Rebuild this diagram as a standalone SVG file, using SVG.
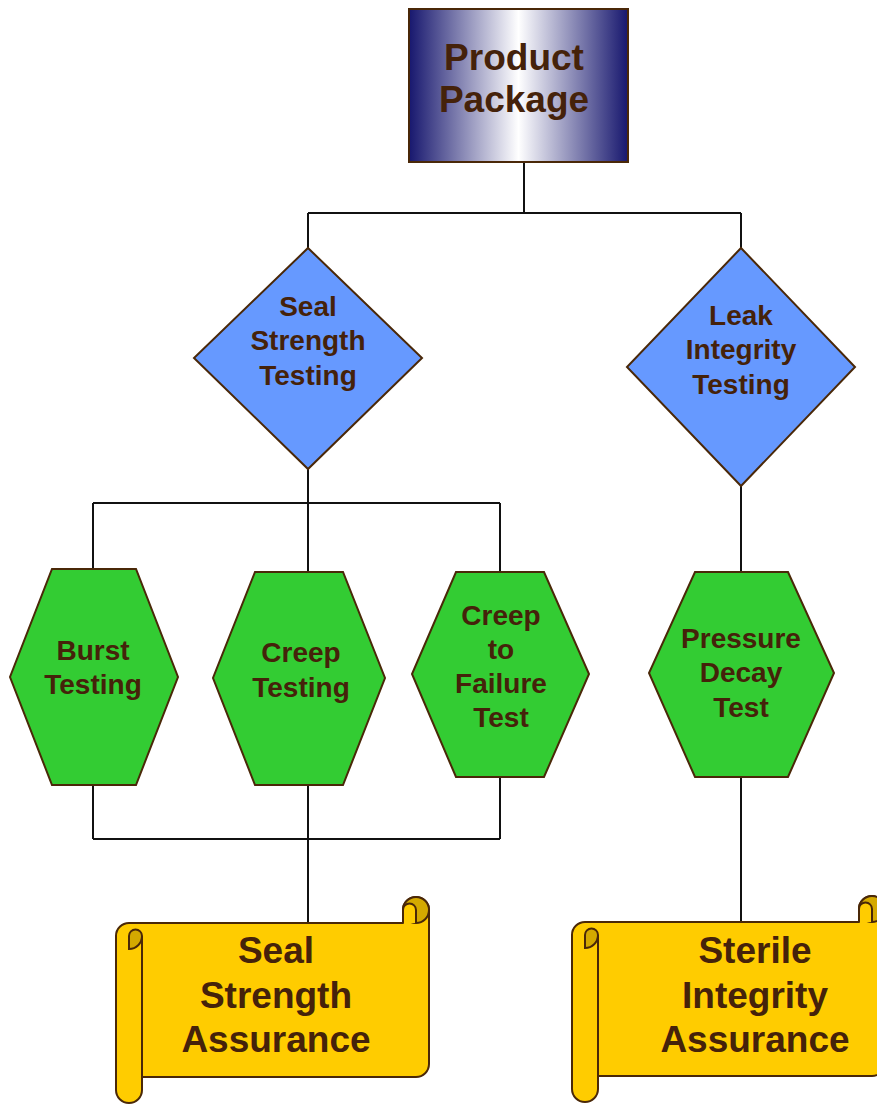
<svg xmlns="http://www.w3.org/2000/svg" width="877" height="1105" viewBox="0 0 877 1105">
<defs>
<linearGradient id="boxGrad" x1="0" y1="0" x2="1" y2="0">
<stop offset="0" stop-color="#17176e"/>
<stop offset="0.5" stop-color="#ffffff"/>
<stop offset="1" stop-color="#17176e"/>
</linearGradient>
<g id="scroll">
<path class="scroll" d="M0,39 A13,13 0 0 1 13,26 L287,26 L287,13 A13,13 0 0 1 313,13 L313,167 A13,13 0 0 1 300,180 L26,180 L26,193 A13,13 0 0 1 0,193 Z"/>
<path class="scrollDark" d="M13,52 A13,13 0 0 0 26,39 A6.5,6.5 0 0 0 13,39 Z"/>
<path class="line" d="M26,39 L26,180"/>
<circle class="scrollDark" cx="300" cy="13" r="13"/>
<path class="scroll" d="M287,26 L287,13 A6.5,6.5 0 0 1 300,13 L300,26"/>
</g>
</defs>
<style>
.conn{fill:none;stroke:#111;stroke-width:2}
.hex{fill:#33cc33;stroke:#4a2808;stroke-width:2}
.dia{fill:#6699ff;stroke:#4a2808;stroke-width:2}
.scroll{fill:#ffcc00;stroke:#4a2808;stroke-width:2;stroke-linejoin:round}
.scrollDark{fill:#d4a900;stroke:#4a2808;stroke-width:2}
.line{fill:none;stroke:#4a2808;stroke-width:2}
text{font-family:"Liberation Sans",Arial,sans-serif;font-weight:bold;fill:#45220a;text-anchor:middle}
.t28{font-size:28px}
.t37{font-size:37px}
</style>
<g id="connectors">
<path class="conn" d="M524,162 V213 M308,213 H741 M308,213 V248 M741,213 V248"/>
<path class="conn" d="M308,469 V503 M93,503 H500 M93,503 V569 M308,503 V572 M500,503 V572"/>
<path class="conn" d="M741,486 V572"/>
<path class="conn" d="M93,785 V839 M500,777 V839 M93,839 H500 M308,785 V923"/>
<path class="conn" d="M741,777 V922"/>
</g>
<g id="product-package">
<rect x="409" y="9" width="219" height="153" fill="url(#boxGrad)" stroke="#4a2808" stroke-width="2"/>
<text class="t37" x="514" y="70">Product</text>
<text class="t37" x="514" y="112">Package</text>
</g>
<g id="seal-strength-testing">
<polygon class="dia" points="308,248 422,358 308,469 194,358"/>
<text class="t28" x="308" y="316">Seal</text>
<text class="t28" x="308" y="350">Strength</text>
<text class="t28" x="308" y="385">Testing</text>
</g>
<g id="leak-integrity-testing">
<polygon class="dia" points="741,248 855,367 741,486 627,367"/>
<text class="t28" x="741" y="325">Leak</text>
<text class="t28" x="741" y="359">Integrity</text>
<text class="t28" x="741" y="394">Testing</text>
</g>
<g id="burst-testing">
<polygon class="hex" points="52,569 136,569 178,677 136,785 52,785 10,677"/>
<text class="t28" x="93" y="660">Burst</text>
<text class="t28" x="93" y="694">Testing</text>
</g>
<g id="creep-testing">
<polygon class="hex" points="255,572 343,572 385,678 343,785 255,785 213,678"/>
<text class="t28" x="301" y="662">Creep</text>
<text class="t28" x="301" y="697">Testing</text>
</g>
<g id="creep-to-failure-test">
<polygon class="hex" points="456,572 544,572 589,674 544,777 456,777 412,674"/>
<text class="t28" x="501" y="625">Creep</text>
<text class="t28" x="501" y="659">to</text>
<text class="t28" x="501" y="693">Failure</text>
<text class="t28" x="501" y="727">Test</text>
</g>
<g id="pressure-decay-test">
<polygon class="hex" points="695,572 788,572 834,673 788,777 695,777 649,673"/>
<text class="t28" x="741" y="648">Pressure</text>
<text class="t28" x="741" y="682">Decay</text>
<text class="t28" x="741" y="717">Test</text>
</g>
<g id="seal-strength-assurance">
<use href="#scroll" transform="translate(116,897)"/>
<text class="t37" x="276" y="963">Seal</text>
<text class="t37" x="276" y="1008">Strength</text>
<text class="t37" x="276" y="1052">Assurance</text>
</g>
<g id="sterile-integrity-assurance">
<use href="#scroll" transform="translate(572,896)"/>
<text class="t37" x="755" y="963">Sterile</text>
<text class="t37" x="755" y="1008">Integrity</text>
<text class="t37" x="755" y="1052">Assurance</text>
</g>
</svg>
